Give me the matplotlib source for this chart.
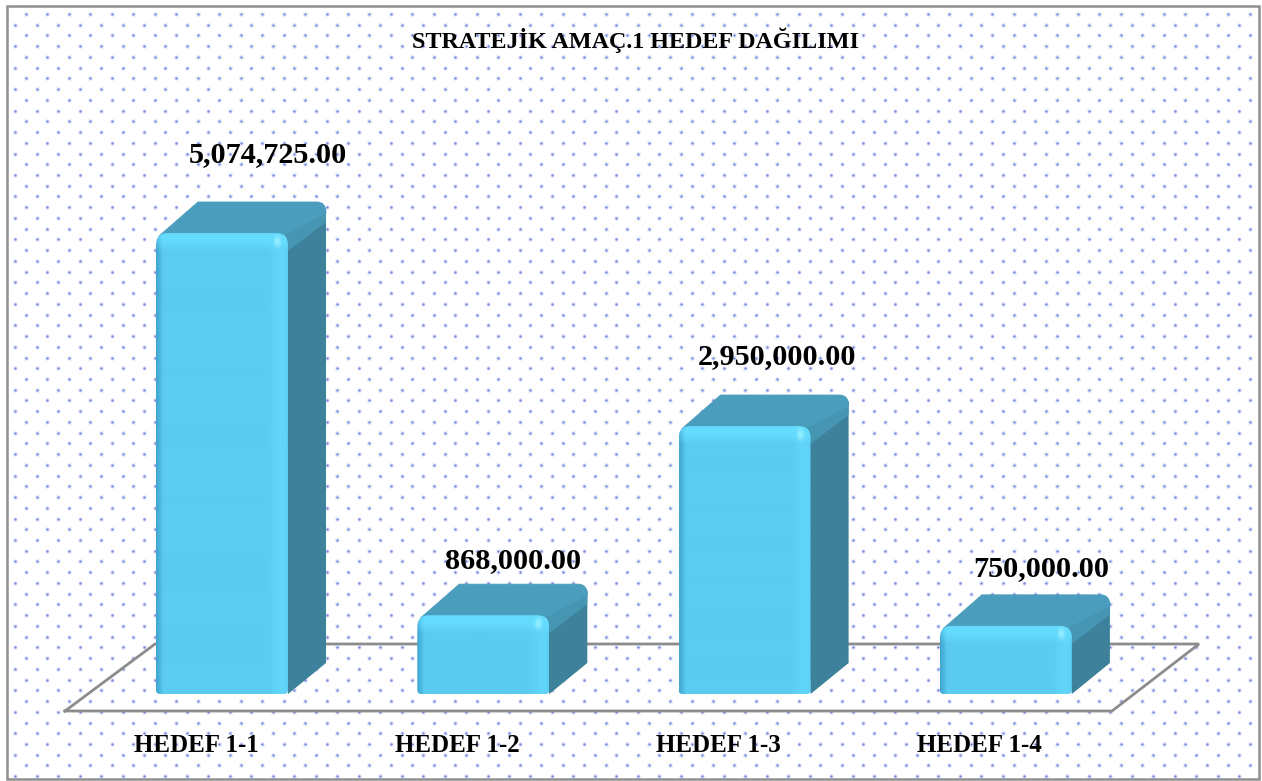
"""Strategic goal 1: target distribution, drawn as fake 3D rounded bars."""

import matplotlib

matplotlib.use("Agg")
import matplotlib.pyplot as plt
import numpy as np
from matplotlib.colors import to_rgb
from matplotlib.patches import PathPatch, Polygon, Rectangle
from matplotlib.path import Path
from matplotlib.transforms import IdentityTransform

W, H = 1262, 781

TITLE = "STRATEJİK AMAÇ.1 HEDEF DAĞILIMI"
CATEGORIES = ["HEDEF 1-1", "HEDEF 1-2", "HEDEF 1-3", "HEDEF 1-4"]
VALUES = [5074725.0, 868000.0, 2950000.0, 750000.0]

FONT = "Liberation Serif"
STEP = 261.3                    # px between bars
BASE_X, BASE_Y = 222, 694       # px of first bar centre / bar foot
PX_PER_VALUE = 461 / 5074725
BAR_W = 132
DX, DY = 39, 31                 # depth of the fake extrusion, px

FRONT, BRIGHT, DARK = "#5BCBF2", "#66DDFF", "#3FA6CF"
TOP, SIDE, SIDE_HI = "#4A9DBD", "#3D819B", "#4595B3"
LINE = "#8C8C8C"
DOT = "#6F80DC"

LABEL_OFFSET = [(46, 78), (30, 55), (32, 69), (35, 57)]  # px from bar top


def px(x, y):
    return x, H - y


def front_path(x0, y0, x1, y1, rt=12, rb=4):
    # rounded rectangle, display coords; y0 top, y1 foot
    verts = [(x0, y1 + rb), (x0, y0 - rt), (x0, y0), (x0 + rt, y0),
             (x1 - rt, y0), (x1, y0), (x1, y0 - rt),
             (x1, y1 + rb), (x1, y1), (x1 - rb, y1),
             (x0 + rb, y1), (x0, y1), (x0, y1 + rb), (x0, y1 + rb)]
    codes = [Path.MOVETO, Path.LINETO, Path.CURVE3, Path.CURVE3,
             Path.LINETO, Path.CURVE3, Path.CURVE3,
             Path.LINETO, Path.CURVE3, Path.CURVE3,
             Path.LINETO, Path.CURVE3, Path.CURVE3, Path.CLOSEPOLY]
    return Path(verts, codes)


def front_shading(w, h):
    img = np.tile(np.array(to_rgb(FRONT)), (h, w, 1))
    bright = np.array(to_rgb(BRIGHT))
    dark = np.array(to_rgb(DARK))
    xs = np.arange(w)
    ys = np.arange(h)
    # soft band down the right edge, then a quick drop at the rim
    a = np.interp(xs, [0, w - 20, w - 9, w - 3, w - 1], [0, 0, 0.6, 0.5, 0])
    img = img + (bright - img) * a[None, :, None]
    a = np.interp(xs, [0, 7], [1, 0])
    img = img + (dark - img) * a[None, :, None]
    a = np.outer(np.interp(ys, [0, 2, 9, 18], [0.6, 1, 0.8, 0]),
                 np.interp(xs, [0, 7], [0.4, 1]))
    img = img + (bright - img) * a[:, :, None]
    # highlight on the top right corner
    yy, xx = np.mgrid[:h, :w]
    d = np.hypot((xx - (w - 11)) / 5.0, (yy - 8) / 8.0)
    a = np.clip(1 - d, 0, 1) * 0.6
    img = img + (1 - img) * a[:, :, None] * np.array([0.6, 1, 1])
    return np.clip(img, 0, 1)


def main():
    fig = plt.figure(figsize=(W / 100, H / 100), dpi=100, facecolor="white")
    ax = fig.add_axes([0, 0, 1, 1])
    ax.set_facecolor("white")
    for sp in ax.spines.values():
        sp.set_visible(False)
    ax.set_xticks([])
    ax.set_yticks([])
    xlim = (-BASE_X / STEP, (W - BASE_X) / STEP)
    ylim = ((BASE_Y - H) / PX_PER_VALUE, BASE_Y / PX_PER_VALUE)
    ax.set_xlim(xlim)
    ax.set_ylim(ylim)
    disp = IdentityTransform()

    # dotted pattern fill, two staggered rows
    sx, sy = np.meshgrid(np.arange(4.0, W - 4, 21.47), np.arange(14.0, H - 4, 21.47))
    dots_x = np.r_[sx.ravel() + 0.5, sx.ravel() + 11.2]
    dots_y = np.r_[sy.ravel(), sy.ravel() + 10.73]
    keep = (dots_x > 8) & (dots_x < W - 5) & (dots_y > 6) & (dots_y < H - 3)
    ax.plot(dots_x[keep], H - dots_y[keep], ls="none", marker="o", ms=3.4,
            mec="none", mfc=DOT, alpha=0.2, transform=disp, zorder=1)
    ax.plot(dots_x[keep], H - dots_y[keep], ls="none", marker="o", ms=1.6,
            mec="none", mfc=DOT, transform=disp, zorder=1.1)

    # chart border
    ax.add_patch(Rectangle(px(6.5, 778.5), W - 10, 773, fill=False, ec="#8F8F8F",
                           lw=1.8, transform=disp, zorder=1.2))

    # floor of the 3D plot
    ax.plot(*zip(px(65, 711), px(155, 644), px(1199, 644), px(1112, 711), px(65, 711)),
            color=LINE, lw=2.0, solid_joinstyle="miter", transform=disp, zorder=2)

    bars = ax.bar(range(len(VALUES)), VALUES, width=BAR_W / STEP, color=FRONT, zorder=3)
    for rect, value, (ox, oy) in zip(bars, VALUES, LABEL_OFFSET):
        box = rect.get_window_extent(fig.canvas.get_renderer())
        x0, x1, y0, y1 = box.x0, box.x1, box.y1, box.y0

        # side and top faces in pixels, then the shaded front on top
        ax.add_patch(Polygon([(x1 - 8, y0 - 2), (x1 + DX - 1, y0 + DY - 6),
                              (x1 + DX - 1, y1 + DY), (x1, y1)],
                             fc=SIDE, ec="none", transform=disp, zorder=3.1))
        ax.add_patch(Polygon([(x1 - 8, y0 - 2), (x1 + DX - 1, y0 + DY - 6),
                              (x1 + DX - 1, y0 + DY - 20), (x1, y0 - 18)],
                             fc=SIDE_HI, ec="none", transform=disp, zorder=3.2))
        verts = [(x0 + 3, y0 - 3), (x0 + DX + 3, y0 + DY), (x1 + DX - 10, y0 + DY),
                 (x1 + DX - 1, y0 + DY), (x1 + DX - 1, y0 + DY - 11),
                 (x1 - 4, y0 - 2), (x0 + 3, y0 - 3)]
        codes = [Path.MOVETO, Path.LINETO, Path.LINETO, Path.CURVE3, Path.CURVE3,
                 Path.LINETO, Path.CLOSEPOLY]
        ax.add_patch(PathPatch(Path(verts, codes), fc=TOP, ec=TOP, lw=0.6,
                               transform=disp, zorder=3.3))

        outline = PathPatch(front_path(x0, y0, x1, y1), fc="none", ec="none",
                            transform=disp, zorder=3.4)
        ax.add_patch(outline)
        im = ax.imshow(front_shading(int(x1 - x0), int(y0 - y1)), aspect="auto",
                       extent=(rect.get_x(), rect.get_x() + rect.get_width(), 0, value),
                       zorder=3.5, interpolation="bilinear")
        im.set_clip_path(outline)
        rect.set_visible(False)

        # data label
        ax.annotate(f"{value:,.2f}", (rect.get_x() + rect.get_width() / 2, value),
                    xytext=(ox, oy), textcoords="offset pixels", ha="center",
                    va="center", family=FONT, weight="bold", fontsize=21.8,
                    color="black", zorder=5)

    for i, cat in enumerate(CATEGORIES):
        ax.annotate(cat, (i, 0), xytext=(-26, -51), textcoords="offset pixels",
                    ha="center", va="center", family=FONT, weight="bold",
                    fontsize=18, color="black", zorder=5)

    fig.text(635 / W, 1 - 40 / H, TITLE, ha="center", va="center", family=FONT,
             weight="bold", fontsize=17.4, color="black", zorder=5)

    ax.set_xlim(xlim)
    ax.set_ylim(ylim)
    fig.savefig("out.png", dpi=100, facecolor="white")
    plt.close(fig)


if __name__ == "__main__":
    main()
